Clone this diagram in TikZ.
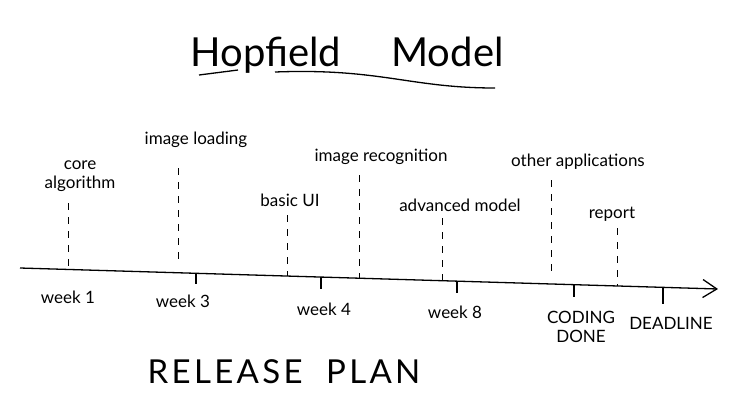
\documentclass[tikz,border=0pt]{standalone}
\usepackage{fontspec}
\setmainfont{Lato}
\usetikzlibrary{arrows.meta}

\begin{document}
\begin{tikzpicture}[x=1pt,y=-1pt,
    lbl/.style={font=\fontsize{17}{19}\selectfont, inner sep=1pt},
    guide/.style={line width=1pt, dash pattern=on 7pt off 7pt},
    tickmark/.style={line width=1.2pt}]
    \useasboundingbox (0,0) rectangle (735,408);

    % title
    \node (title) at (347,55) {\fontsize{40}{46}\selectfont Hopfield \quad Model};
    \draw[line width=1.3pt] (199,75) -- (238,70);
    \draw[line width=1.3pt] (275,72) .. controls (380,68) and (410,88) .. (495,88);

    % timeline
    \coordinate (start) at (20,268);
    \coordinate (end) at (718,289);
    \draw[line width=1.3pt,-{Straight Barb[length=14pt,width=18pt]}] (start) -- (end);

    % week ticks below the line
    \foreach \n/\x/\ytop/\ybot in {w3/196/273/284, w4/321/277/289, w8/457/281/293, done/574/285/297, dead/663/287/304} {
        \coordinate (\n-top) at (\x,\ytop);
        \coordinate (\n-bot) at (\x,\ybot);
        \draw[tickmark] (\n-top) -- (\n-bot);
    }

    % milestones above the line
    \foreach \n/\x/\ytop/\ybot in {core/68/203/266, load/178/168/262, ui/287/215/276, recog/359/175/278, adv/442/218/281, apps/551/180/275, report/617/228/286} {
        \coordinate (\n-top) at (\x,\ytop);
        \coordinate (\n-bot) at (\x,\ybot);
        \draw[guide] (\n-top) -- (\n-bot);
    }

    \node[lbl, align=center] (core) at (80,176) {core\\algorithm};
    \node[lbl] (load) at (196,140) {image loading};
    \node[lbl] (ui) at (290,200) {basic UI};
    \node[lbl] (recog) at (381,157) {image recognition};
    \node[lbl] (adv) at (460,205) {advanced model};
    \node[lbl] (apps) at (578,162) {other applications};
    \node[lbl] (report) at (612,214) {report};

    \node[lbl] (week1) at (68,297) {week 1};
    \node[lbl] (week3) at (183,301) {week 3};
    \node[lbl] (week4) at (324,309) {week 4};
    \node[lbl] (week8) at (455,312) {week 8};
    \node[lbl, align=center] (coding) at (581,327) {CODING\\DONE};
    \node[lbl] (deadline) at (671,323) {DEADLINE};

    \node (plan) at (284,372) {\fontsize{33}{37}\selectfont\addfontfeature{LetterSpace=10}RELEASE \ PLAN};
\end{tikzpicture}
\end{document}
